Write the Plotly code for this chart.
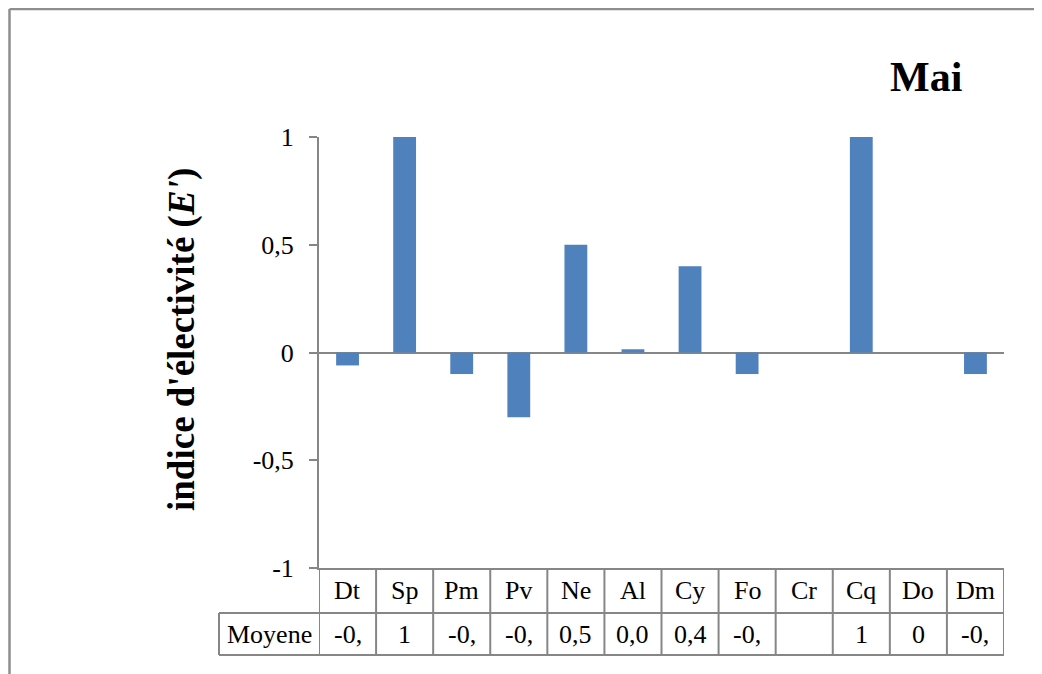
import plotly.graph_objects as go

# ---- data ----
categories = ["Dt", "Sp", "Pm", "Pv", "Ne", "Al", "Cy", "Fo", "Cr", "Cq", "Do", "Dm"]
values = [-0.06, 1, -0.1, -0.3, 0.5, 0.015, 0.4, -0.1, 0, 1, 0, -0.1]
table_labels = ["-0,", "1", "-0,", "-0,", "0,5", "0,0", "0,4", "-0,", "", "1", "0", "-0,"]
row_label = "Moyene"
y_tickvals = [-1, -0.5, 0, 0.5, 1]
y_ticktext = ["-1", "-0,5", "0", "0,5", "1"]
chart_title = "Mai"
y_title = "<b>indice d'électivité (<i>E'</i>)</b>"

# ---- layout geometry (window pixels; page body adds an 8px offset) ----
OFF = 8
W, H = 1042, 674
L, R, T, B = 319 - OFF, 1004 - OFF, 137 - OFF, 568 - OFF
GRAY = "#868686"
BAR = "#4f81bd"
FONT = "Liberation Serif"


def px_x(p):
    return (p - OFF - L) / (R - L)


def px_y(p):
    return (B - (p - OFF)) / (B - T)


row1_bottom = px_y(613)
row2_bottom = px_y(655)
label_left = px_x(219)

fig = go.Figure(
    go.Bar(x=categories, y=values, marker=dict(color=BAR, line=dict(width=0)))
)

shapes = []
for i in range(len(categories) + 1):
    shapes.append(dict(type="line", xref="x", yref="paper", x0=i - 0.5, x1=i - 0.5,
                       y0=0, y1=row2_bottom, line=dict(color=GRAY, width=2)))
for yy in (row1_bottom, row2_bottom):
    shapes.append(dict(type="line", xref="paper", yref="paper", x0=label_left, x1=1,
                       y0=yy, y1=yy, line=dict(color=GRAY, width=2)))
shapes.append(dict(type="line", xref="paper", yref="paper", x0=label_left, x1=label_left,
                   y0=row1_bottom, y1=row2_bottom, line=dict(color=GRAY, width=2)))
# outer chart border (top and left)
shapes.append(dict(type="line", xref="paper", yref="paper", x0=px_x(9.5), x1=px_x(1060),
                   y0=px_y(9), y1=px_y(9), line=dict(color="#8e8e8e", width=2.5)))
shapes.append(dict(type="line", xref="paper", yref="paper", x0=px_x(9.5), x1=px_x(9.5),
                   y0=px_y(9), y1=px_y(700), line=dict(color="#8e8e8e", width=2.5)))

annotations = []
hdr_y = px_y((568 + 613) / 2)
val_y = px_y((613 + 655) / 2)
cell_font = dict(family=FONT, size=26, color="black")
for c, t in zip(categories, table_labels):
    annotations.append(dict(x=c, xref="x", y=hdr_y, yref="paper", text=c, showarrow=False,
                            xanchor="center", yanchor="middle", font=cell_font))
    annotations.append(dict(x=c, xref="x", y=val_y, yref="paper", text=t, showarrow=False,
                            xanchor="center", yanchor="middle", font=cell_font))
annotations.append(dict(x=px_x((219 + 319) / 2), xref="paper", y=val_y, yref="paper",
                        text=row_label, showarrow=False, xanchor="center", yanchor="middle",
                        font=cell_font))
annotations.append(dict(x=px_x(926), xref="paper", y=px_y(77), yref="paper",
                        text="<b>" + chart_title + "</b>", showarrow=False,
                        xanchor="center", yanchor="middle",
                        font=dict(family=FONT, size=42, color="black")))
annotations.append(dict(x=px_x(182), xref="paper", y=px_y(340), yref="paper",
                        text=y_title, showarrow=False, textangle=-90,
                        xanchor="center", yanchor="middle",
                        font=dict(family=FONT, size=37, color="black")))

fig.update_layout(
    width=W, height=H,
    margin=dict(l=L, r=W - R, t=T, b=H - B, pad=0),
    paper_bgcolor="white", plot_bgcolor="white",
    bargap=0.6,
    showlegend=False,
    shapes=shapes,
    annotations=annotations,
    xaxis=dict(type="category", range=[-0.5, len(categories) - 0.5], showticklabels=False,
               ticks="", showline=True, linecolor=GRAY, linewidth=2, showgrid=False,
               zeroline=False, fixedrange=True),
    yaxis=dict(range=[-1, 1], tickvals=y_tickvals, ticktext=y_ticktext, ticks="outside",
               ticklen=8, tickwidth=2, tickcolor=GRAY, showline=True, linecolor=GRAY,
               linewidth=2, showgrid=False, zeroline=True, zerolinecolor=GRAY,
               zerolinewidth=2, ticklabelstandoff=10,
               tickfont=dict(family=FONT, size=26, color="black"), fixedrange=True),
)

fig.write_html("out.html")
